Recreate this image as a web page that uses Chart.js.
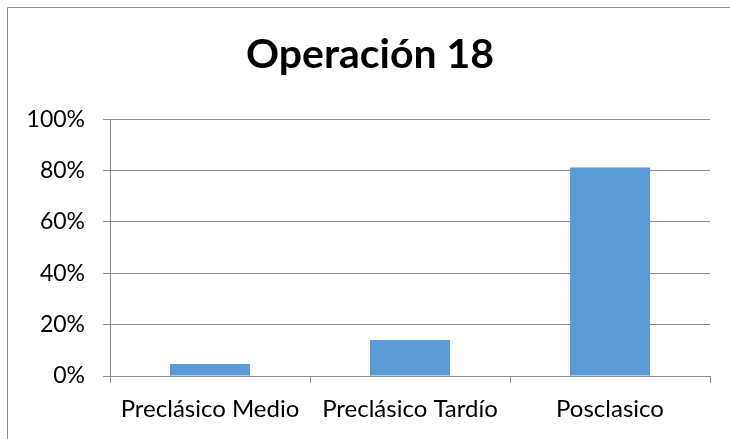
<!DOCTYPE html>
<html><head><meta charset="utf-8">
<script src="https://cdn.jsdelivr.net/npm/chart.js@4"></script>
<style>html,body{margin:0;padding:0;background:#fff;overflow:hidden}#w{width:730px;height:439px;position:relative}</style>
</head><body><div id="w"><canvas id="c"></canvas></div>
<script>
const chartTitle = "Operación 18";
const categories = ["Preclásico Medio", "Preclásico Tardío", "Posclasico"];
const values = [4.7, 14.0, 81.2];
const yTicks = [0, 20, 40, 60, 80, 100];

const borderPlugin = {
  id: 'frame',
  beforeDraw(chart) {
    const ctx = chart.ctx;
    ctx.save();
    ctx.fillStyle = '#fff';
    ctx.fillRect(0, 0, chart.width, chart.height);
    ctx.strokeStyle = '#8c8c8c';
    ctx.lineWidth = 1;
    ctx.beginPath();
    ctx.moveTo(7.5, chart.height);
    ctx.lineTo(7.5, 7.5);
    ctx.lineTo(chart.width, 7.5);
    ctx.stroke();
    ctx.restore();
  }
};

new Chart(document.getElementById('c'), {
  type: 'bar',
  data: {
    labels: categories,
    datasets: [{ data: values, backgroundColor: '#5b9bd5', borderWidth: 0,
      categoryPercentage: 1.0, barPercentage: 0.4 }]
  },
  options: {
    responsive: true, maintainAspectRatio: false, animation: false,
    devicePixelRatio: 1,
    layout: { padding: { left: 10, right: 0, top: 0, bottom: 0 } },
    plugins: {
      legend: { display: false }, tooltip: { enabled: false },
      title: { display: true, text: chartTitle, color: '#000',
        font: { family: 'Lato', size: 41, weight: 'bold', lineHeight: 1.2 },
        padding: { top: 30, bottom: 40 } }
    },
    scales: {
      x: {
        offset: true,
        grid: { offset: true, drawOnChartArea: false, tickLength: 7, color: '#8c8c8c' },
        border: { color: '#8c8c8c' },
        ticks: { color: '#000', font: { family: 'Lato', size: 24 }, padding: 12, maxRotation: 0, autoSkip: false },
        afterFit(s) { s.height = 63; }
      },
      y: {
        min: 0, max: 100,
        afterBuildTicks(s) { s.ticks = yTicks.map(v => ({ value: v })); },
        grid: { tickLength: 7, color: '#8c8c8c' },
        border: { color: '#8c8c8c' },
        ticks: { color: '#000', font: { family: 'Lato', size: 23 }, padding: 18,
          callback: v => v + '%' },
        afterFit(s) { s.width = 100; }
      },
      yRight: {
        position: 'right', min: 0, max: 100,
        grid: { display: false, drawTicks: false }, border: { display: false },
        ticks: { display: false },
        afterFit(s) { s.width = 20; }
      }
    }
  },
  plugins: [borderPlugin]
});
</script></body></html>
